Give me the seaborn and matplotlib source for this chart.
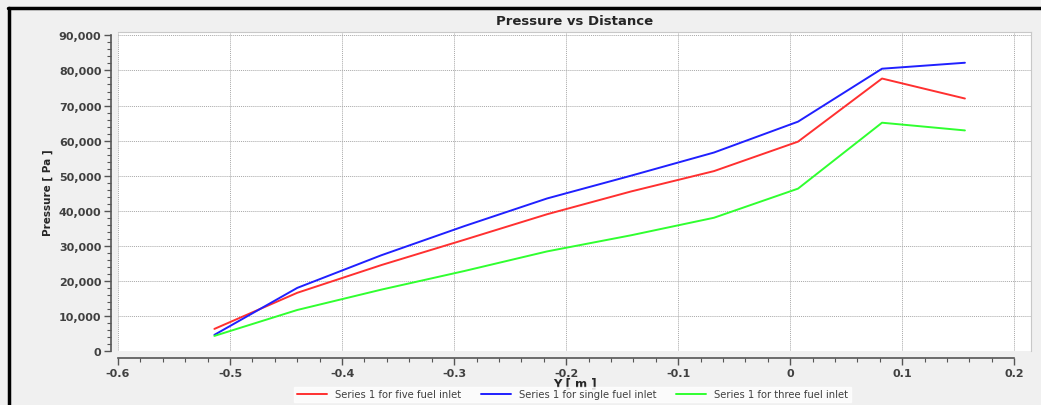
import numpy as np
import pandas as pd
import matplotlib.pyplot as plt
import matplotlib.ticker as mticker
from matplotlib.lines import Line2D
import seaborn as sns

y_pos = [-0.514, -0.440, -0.365, -0.291, -0.217, -0.142, -0.068, 0.007, 0.082, 0.156]
five_fuel = [6300, 16600, 24500, 31700, 39000, 45500, 51300, 59700, 77700, 72000]
single_fuel = [4600, 18000, 27300, 35600, 43500, 50000, 56600, 65400, 80500, 82200]
three_fuel = [4300, 11700, 17500, 22800, 28400, 33000, 38000, 46300, 65100, 62900]

names = ["Series 1 for five fuel inlet", "Series 1 for single fuel inlet",
         "Series 1 for three fuel inlet"]
colors = ["#ff3030", "#2020ff", "#30ff30"]

df = pd.concat([
    pd.DataFrame({"Y": y_pos, "Pressure": vals, "series": name})
    for name, vals in zip(names, [five_fuel, single_fuel, three_fuel])
])

sns.set_style("white")
plt.rcParams["font.family"] = ["DejaVu Sans"]

fig = plt.figure(figsize=(10.41, 4.06), dpi=100, facecolor="#f0f0f0")
ax = fig.add_axes([0.1134, 0.133, 0.877, 0.786])
ax.set_facecolor("white")

sns.lineplot(data=df, x="Y", y="Pressure", hue="series", palette=colors,
             linewidth=1.4, ax=ax, legend=False, sort=False)

ax.set_xlim(-0.6, 0.215)
ax.set_ylim(0, 91000)
ax.xaxis.set_major_locator(mticker.MultipleLocator(0.1))
ax.xaxis.set_minor_locator(mticker.MultipleLocator(0.02))
ax.yaxis.set_major_locator(mticker.MultipleLocator(10000))
ax.yaxis.set_minor_locator(mticker.MultipleLocator(2000))
ax.yaxis.set_major_formatter(mticker.FuncFormatter(lambda v, p: f"{v:,.0f}"))
ax.xaxis.set_major_formatter(mticker.FuncFormatter(lambda v, p: "0" if abs(v) < 1e-9 else f"{v:.1f}"))

ax.grid(True, which="major", color="#a8a8a8", linestyle=(0, (1, 1)), linewidth=0.7)

for s in ["top", "right"]:
    ax.spines[s].set_color("#c8c8c8")
for s in ["left", "bottom"]:
    ax.spines[s].set_position(("outward", 5))
    ax.spines[s].set_color("#555555")
    ax.spines[s].set_linewidth(1.2)
ax.spines["bottom"].set_bounds(-0.6, 0.2)
ax.spines["left"].set_bounds(0, 90000)

ax.tick_params(axis="both", which="both", bottom=True, left=True, direction="out",
               color="#555555")
ax.tick_params(axis="both", which="major", length=5, width=1,
               labelsize=8, labelcolor="#404040", pad=2)
ax.tick_params(axis="both", which="minor", length=3, width=0.8)
for lbl in ax.get_xticklabels() + ax.get_yticklabels():
    lbl.set_fontweight("bold")

ax.set_xlabel("Y [ m ]", fontsize=8.5, fontweight="bold", labelpad=-1)
ax.set_ylabel("Pressure [ Pa ]", fontsize=7.5, fontweight="bold", labelpad=4)
fig.text(0.552, 0.948, "Pressure vs Distance", ha="center", va="center",
         fontsize=9.5, fontweight="bold")

handles = [Line2D([0], [0], color=c, linewidth=1.4) for c in colors]
leg = fig.legend(handles, names, loc="center", bbox_to_anchor=(0.55, 0.026),
                 ncol=3, fontsize=7.2, frameon=True, fancybox=False,
                 handlelength=3.0, columnspacing=2.0, borderpad=0.25)
leg.get_frame().set_facecolor("white")
leg.get_frame().set_edgecolor("white")
for t in leg.get_texts():
    t.set_color("#404040")

# black outer frame (top and left)
fig.add_artist(Line2D([0.008, 1.0], [0.978, 0.978], color="black", linewidth=2.5,
                      transform=fig.transFigure))
fig.add_artist(Line2D([0.009, 0.009], [0.0, 0.978], color="black", linewidth=2.5,
                      transform=fig.transFigure))

fig.savefig("out.png", dpi=100, facecolor=fig.get_facecolor())
